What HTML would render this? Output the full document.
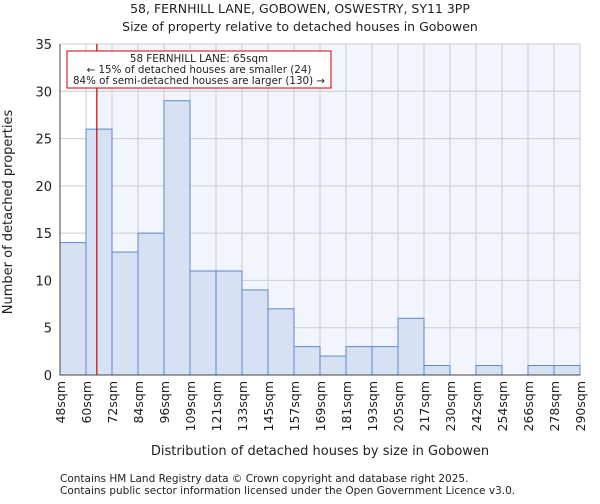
<!DOCTYPE html>
<html><head><meta charset="utf-8"><style>
body{margin:0;background:#fff;font-family:"DejaVu Sans","Liberation Sans",sans-serif}
svg text{font-family:"DejaVu Sans","Liberation Sans",sans-serif;fill:#222}
</style></head><body>
<svg id="c" width="600" height="500"></svg>
<script>
const binEdges=[48,60,72,84,96,109,121,133,145,157,169,181,193,205,217,230,242,254,266,278,290];
const tickLabels=["48sqm","60sqm","72sqm","84sqm","96sqm","109sqm","121sqm","133sqm","145sqm","157sqm","169sqm","181sqm","193sqm","205sqm","217sqm","230sqm","242sqm","254sqm","266sqm","278sqm","290sqm"];
const counts=[14,26,13,15,29,11,11,9,7,3,2,3,3,6,1,0,1,0,1,1];
const yTicks=[0,5,10,15,20,25,30,35];
const markerValue=65;
const NS="http://www.w3.org/2000/svg";
const svg=document.getElementById('c');
const L=60,R=580,T=44,B=375,yMax=35;
const bw=(R-L)/counts.length;
const xi=i=>L+i*bw;
const xv=v=>{for(let i=0;i<binEdges.length-1;i++){if(v<=binEdges[i+1])return xi(i)+(v-binEdges[i])/(binEdges[i+1]-binEdges[i])*bw;}return R;};
const y=v=>B-v/yMax*(B-T);
function el(t,a,p){const e=document.createElementNS(NS,t);for(const k in a)e.setAttribute(k,a[k]);(p||svg).appendChild(e);return e;}
const mx=xv(markerValue);
let e;
e=el('rect',{x:mx,y:T,width:R-mx,height:B-T,fill:'#f2f5fd'});


for(let i=0;i<=counts.length;i++){e=el('line',{x1:xi(i),x2:xi(i),y1:T,y2:B,stroke:'#cccccc','stroke-width':1});

}
yTicks.forEach(t=>{e=el('line',{x1:L,x2:R,y1:y(t),y2:y(t),stroke:'#cccccc','stroke-width':1});


const tx=el('text',{x:L-8,y:y(t)+5,'text-anchor':'end','font-size':13});tx.textContent=t;

});
counts.forEach((c,i)=>{if(c<=0)return;e=el('rect',{x:xi(i),y:y(c),width:bw,height:B-y(c),fill:'#d6e1f4',stroke:'#5b87d1','stroke-width':1});

});
tickLabels.forEach((t,i)=>{const tx=el('text',{transform:`translate(${xi(i)+5},${B+6}) rotate(-90)`,'text-anchor':'end','font-size':12.5});tx.textContent=t;

});
e=el('line',{x1:mx,x2:mx,y1:T,y2:B,stroke:'#cc0000','stroke-width':1.2});


const g=el('g',{});


el('rect',{x:67,y:51,width:264,height:37,fill:'#fff',stroke:'#cc0000','stroke-width':1},g);
[["58 FERNHILL LANE: 65sqm",62],["← 15% of detached houses are smaller (24)",73],["84% of semi-detached houses are larger (130) →",84]].forEach(([s,yy])=>{const t=el('text',{x:199,y:yy,'text-anchor':'middle','font-size':10.3},g);t.textContent=s;});
el('line',{x1:L,x2:L,y1:T,y2:B,stroke:'#444'});
el('line',{x1:L,x2:R,y1:B,y2:B,stroke:'#444'});
function txt(s,a,n){const t=el('text',a);t.textContent=s;

}
txt("58, FERNHILL LANE, GOBOWEN, OSWESTRY, SY11 3PP",{x:300,y:13,'text-anchor':'middle','font-size':12.5},'chart-title');
txt("Size of property relative to detached houses in Gobowen",{x:300,y:31,'text-anchor':'middle','font-size':12.5},'chart-subtitle');
txt("Distribution of detached houses by size in Gobowen",{x:320,y:455,'text-anchor':'middle','font-size':13},'x-axis-title');
txt("Number of detached properties",{transform:'translate(12,212) rotate(-90)','text-anchor':'middle','font-size':13},'y-axis-title');
txt("Contains HM Land Registry data © Crown copyright and database right 2025.",{x:60,y:482,'font-size':10.5,fill:'#555'},'footer-line-1');
txt("Contains public sector information licensed under the Open Government Licence v3.0.",{x:60,y:494,'font-size':10.5,fill:'#555'},'footer-line-2');
</script></body></html>
